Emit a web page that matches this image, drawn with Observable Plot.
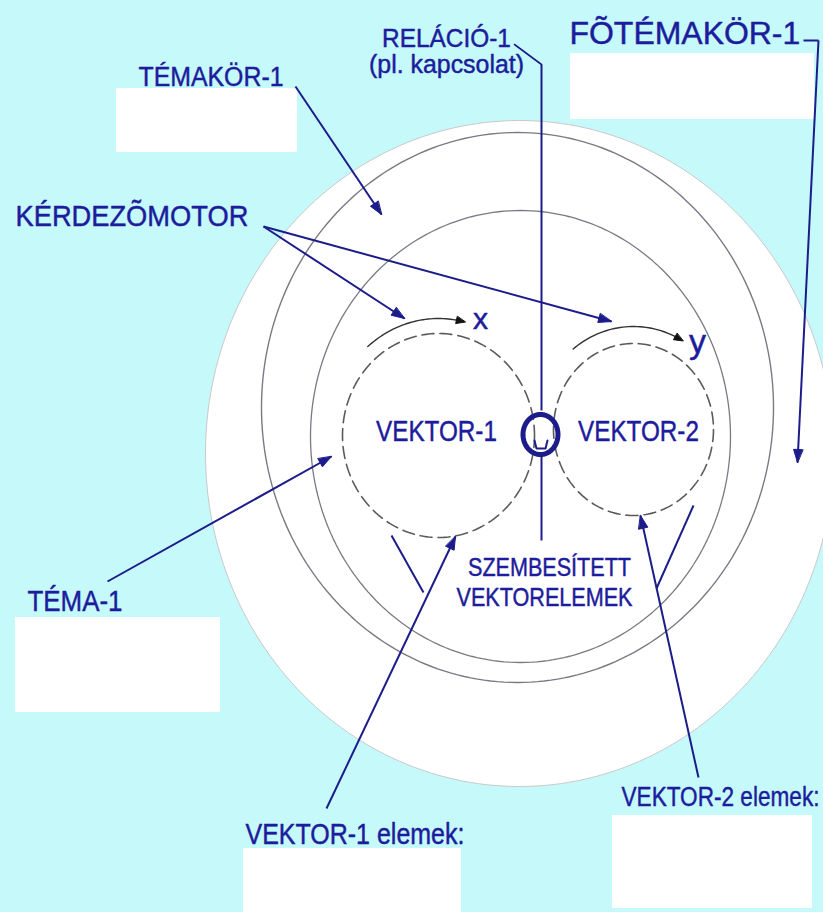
<!DOCTYPE html>
<html><head><meta charset="utf-8">
<script src="https://cdn.jsdelivr.net/npm/d3@7"></script>
<script src="https://cdn.jsdelivr.net/npm/@observablehq/plot@0.6"></script>
<style>html,body{margin:0;padding:0;background:#c6f9fa;overflow:hidden}</style>
</head><body><div id="chart"></div>
<script>
const W = 823, H = 912;
const NAVY = "#1c1c8a", TEXT = "#1c1c9c";

// ---- diagram content ----
const labels      = ["TÉMAKÖR-1","RELÁCIÓ-1","(pl. kapcsolat)","FÕTÉMAKÖR-1","KÉRDEZÕMOTOR","x","y","VEKTOR-1","VEKTOR-2","SZEMBESÍTETT","VEKTORELEMEK","TÉMA-1","VEKTOR-1 elemek:","VEKTOR-2 elemek:"];
const labelX      = [138,446,446,569,15,480,697,436,638,549,544,27,245,621];
const labelY      = [85,46,72,43,225,328,352,440,440,575,605,610,843,805];
const labelSize   = [28,25,25,32,29,30,34,30,30,25,25,30,29,28];
const labelWidth  = [145,129,155,231,233,null,null,121,121,163,176,95,219,198];
const labelAnchor = ["start","middle","middle","start","start","middle","middle","middle","middle","middle","middle","start","start","start"];

// white answer boxes
const boxX1 = [116,570,15,243,612];
const boxX2 = [297,814,220,461,812];
const boxY1 = [88,53,617,848,815];
const boxY2 = [152,119,712,912,908];

// rings: disk, outer gray, inner gray, vector-1 dashed, vector-2 dashed
const ringName = ["disk","ringA","ringB","vec1","vec2"];
const ringCX = [519,517,520,438,633];
const ringCY = [453,407,436,435,429];
const ringRX = [314,256,210,96,80];
const ringRY = [333,275,226,102,86];

// rotation arcs (x, y) around the vectors
const arcName = ["x","y"];
const arcCX = [438,633], arcCY = [438,432], arcRX = [110,98], arcRY = [120,106];
const arcFrom = [-130,-128], arcTo = [-77,-61];

// arrows with heads
const arrowX1 = [295,263,263,107,326,698,818];
const arrowY1 = [86,226,226,581,808,777,40];
const arrowX2 = [381,404,611,331,455,640,797];
const arrowY2 = [214,318,321,456,536,515,462];

// plain leader segments
const segX1 = [391,693,803,541,541];
const segY1 = [535,505,40,455,64];
const segX2 = [423,656,818,541,541];
const segY2 = [592,588,40,540,410];
// relation leader diagonal
const relX = [514,541], relY = [44,64];
// small relation circle
const oCX = 540, oCY = 434, oRX = 17.5, oRY = 20;
const oMarkX = [534,536,545,547], oMarkY = [440,448,448,440];

// ---- build tables ----
const rad = d => d * Math.PI / 180;
const ellipse = (id, cx, cy, rx, ry, n = 240) =>
  d3.range(n).map(i => { const t = 2 * Math.PI * i / n; return {id, x: cx + rx * Math.cos(t), y: cy + ry * Math.sin(t)}; });
const rings = ringName.map((id, i) => ellipse(id, ringCX[i], ringCY[i], ringRX[i], ringRY[i]));
const arcs = arcName.flatMap((id, i) => d3.range(41).map(k => {
  const t = rad(arcFrom[i] + (arcTo[i] - arcFrom[i]) * k / 40);
  return {id, x: arcCX[i] + arcRX[i] * Math.cos(t), y: arcCY[i] + arcRY[i] * Math.sin(t)};
}));
function head(id, x1, y1, x2, y2, L = 13, w = 4.6) {
  const a = Math.atan2(y2 - y1, x2 - x1);
  const bx = x2 - L * Math.cos(a), by = y2 - L * Math.sin(a);
  const px = -Math.sin(a) * w, py = Math.cos(a) * w;
  return [{id, x: x2, y: y2}, {id, x: bx + px, y: by + py}, {id, x: bx - px, y: by - py}];
}
const arrows = arrowX1.map((x1, i) => ({x1, y1: arrowY1[i], x2: arrowX2[i], y2: arrowY2[i]}));
const heads = arrows.flatMap((a, i) => head("a" + i, a.x1, a.y1, a.x2, a.y2));
const arcHeads = arcName.flatMap(id => {
  const p = arcs.filter(d => d.id === id); const a = p[p.length - 3], b = p[p.length - 1];
  return head("h" + id, a.x, a.y, b.x + (b.x - a.x) * 0.4, b.y + (b.y - a.y) * 0.4, 9, 3.6);
});
const segs = segX1.map((x1, i) => ({x1, y1: segY1[i], x2: segX2[i], y2: segY2[i]}));
const boxes = boxX1.map((x1, i) => ({x1, x2: boxX2[i], y1: boxY1[i], y2: boxY2[i]}));
const texts = labels.map((t, i) => ({t, x: labelX[i], y: labelY[i], s: labelSize[i], w: labelWidth[i], a: labelAnchor[i]}));
const oRing = ellipse("o", oCX, oCY, oRX, oRY, 80);
const oMark = oMarkX.map((x, i) => ({x, y: oMarkY[i]}));
const rel = relX.map((x, i) => ({x, y: relY[i]}));

const byId = id => rings[ringName.indexOf(id)];
const FONT = "'Liberation Sans', Arial, Helvetica, sans-serif";

const plot = Plot.plot({
  width: W, height: H, margin: 0,
  x: {domain: [0, W], range: [0, W], axis: null},
  y: {domain: [0, H], range: [0, H], axis: null},
  style: {background: "#c6f9fa", overflow: "visible"},
  marks: [
    Plot.line(byId("disk"), {x: "x", y: "y", curve: "linear-closed", fill: "white", stroke: "#c9c9c9", strokeWidth: 1}),
    Plot.line(byId("ringA"), {x: "x", y: "y", curve: "linear-closed", stroke: "#7a7a86", strokeWidth: 1.4}),
    Plot.line(byId("ringB"), {x: "x", y: "y", curve: "linear-closed", stroke: "#7a7a86", strokeWidth: 1.3}),
    Plot.line(byId("vec1"), {x: "x", y: "y", curve: "linear-closed", stroke: "#5a5a5a", strokeWidth: 1.6, strokeDasharray: "12,6"}),
    Plot.line(byId("vec2"), {x: "x", y: "y", curve: "linear-closed", stroke: "#5a5a5a", strokeWidth: 1.6, strokeDasharray: "12,6"}),
    Plot.line(arcs, {x: "x", y: "y", z: "id", stroke: "#333", strokeWidth: 1.4}),
    Plot.line(arcHeads, {x: "x", y: "y", z: "id", curve: "linear-closed", fill: "#111", stroke: "#111", strokeWidth: 1}),
    Plot.rect(boxes, {x1: "x1", x2: "x2", y1: "y1", y2: "y2", fill: "white"}),
    Plot.link(arrows, {x1: "x1", y1: "y1", x2: "x2", y2: "y2", stroke: NAVY, strokeWidth: 2}),
    Plot.line(heads, {x: "x", y: "y", z: "id", curve: "linear-closed", fill: NAVY, stroke: NAVY, strokeWidth: 1}),
    Plot.link(segs, {x1: "x1", y1: "y1", x2: "x2", y2: "y2", stroke: NAVY, strokeWidth: 2}),
    Plot.line(rel, {x: "x", y: "y", stroke: NAVY, strokeWidth: 1.6}),
    Plot.line(oRing, {x: "x", y: "y", curve: "linear-closed", stroke: NAVY, strokeWidth: 5}),
    Plot.line(oMark, {x: "x", y: "y", stroke: NAVY, strokeWidth: 2}),
    Plot.text(texts.filter(d => d.a === "start"), {x: "x", y: "y", text: "t", fontSize: "s", textAnchor: "start", lineAnchor: "bottom", fill: TEXT, stroke: TEXT, strokeWidth: 0.45, fontFamily: FONT}),
    Plot.text(texts.filter(d => d.a === "middle"), {x: "x", y: "y", text: "t", fontSize: "s", textAnchor: "middle", lineAnchor: "bottom", fill: TEXT, stroke: TEXT, strokeWidth: 0.45, fontFamily: FONT})
  ]
});
document.getElementById("chart").appendChild(plot);

// fit the condensed lettering to its measured width
const widthOf = new Map(texts.filter(d => d.w).map(d => [d.t, d.w]));
plot.querySelectorAll("text").forEach(el => {
  const w = widthOf.get(el.textContent);
  if (!w) return;
  const len = el.getComputedTextLength();
  if (len > 0) el.setAttribute("transform", (el.getAttribute("transform") || "") + ` scale(${(w / len).toFixed(3)},1)`);
});
</script>
</body></html>
